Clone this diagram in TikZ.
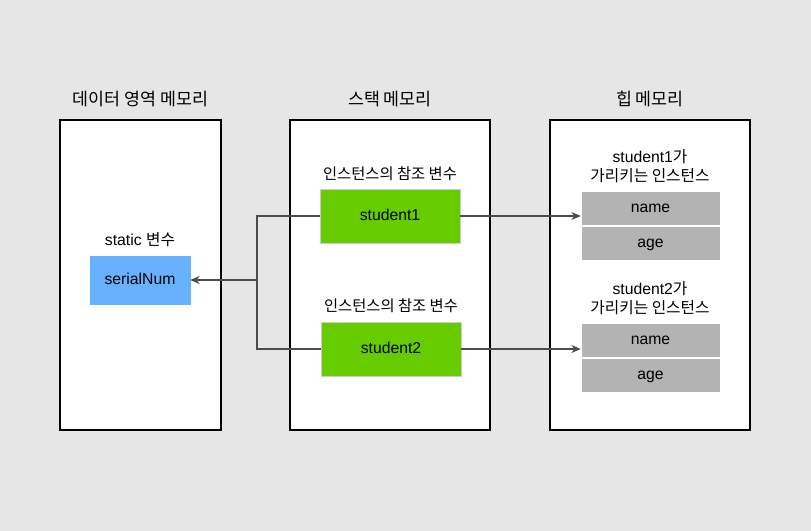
\documentclass[tikz,border=0pt]{standalone}
\usepackage{fontspec}
\setmainfont{Liberation Sans}
\newfontfamily\kr{Noto Sans CJK KR}
\usepackage{tikz}
\usetikzlibrary{arrows.meta, positioning}
\definecolor{bggray}{HTML}{E6E6E6}
\definecolor{serialblue}{HTML}{66B2FF}
\definecolor{stugreen}{HTML}{66CC00}
\definecolor{fieldgray}{HTML}{B3B3B3}

\begin{document}
\begin{tikzpicture}[x=0.75pt, y=-0.75pt, font=\fontsize{11.8}{14}\selectfont,
	mem/.style={draw=black, fill=white, line width=0.8pt, inner sep=0pt},
	title/.style={font=\kr\fontsize{13}{15}\selectfont},
	caption/.style={align=center, font=\fontsize{11.8}{14}\selectfont},
	refvar/.style={draw=black!20, fill=stugreen, minimum width=105pt, minimum height=40.5pt, inner sep=0pt, text height=1.6ex, text depth=0.3ex},
	field/.style={draw=white, fill=fieldgray, minimum width=104.25pt, minimum height=25.5pt, inner sep=0pt, text height=1.6ex, text depth=0.3ex},
	link/.style={draw=black!70, line width=0.8pt, -{Stealth[length=7pt, width=6pt]}}]
	% Background
	\fill[bggray] (0,0) rectangle (811,531);
	
	% Memory areas
	\node[mem, minimum width=120.75pt, minimum height=232.5pt] (data) at (140.5,275) {};
	\node[mem, minimum width=150pt, minimum height=232.5pt] (stack) at (390,275) {};
	\node[mem, minimum width=150pt, minimum height=232.5pt] (heap) at (650,275) {};
	\node[title] (datatitle) at (140.5,99) {데이터 영역 메모리};
	\node[title] (stacktitle) at (390,99) {스택 메모리};
	\node[title] (heaptitle) at (650,99) {힙 메모리};
	
	% Data area
	\node[draw=serialblue, fill=serialblue, minimum width=75pt, minimum height=36pt, inner sep=0pt, text height=1.6ex, text depth=0.3ex] (serial) at (140,280) {serialNum};
	\node[caption] (staticlabel) at (140,240) {static {\kr 변수}};
	
	% Stack
	\node[refvar] (stu1) at (390,216) {student1};
	\node[refvar] (stu2) at (391,349) {student2};
	\node[caption, font=\kr\fontsize{11.5}{14}\selectfont] (ref1) at (390,174) {인스턴스의 참조 변수};
	\node[caption, font=\kr\fontsize{11.5}{14}\selectfont] (ref2) at (391,306) {인스턴스의 참조 변수};
	
	% Heap
	\node[field] (name1) at (650.5,208) {name};
	\node[field] (age1) at (650.5,243) {age};
	\node[field] (name2) at (650.5,340) {name};
	\node[field] (age2) at (650.5,375) {age};
	\node[caption] (inst1) at (650,166) {student1{\kr 가}\\{\kr 가리키는 인스턴스}};
	\node[caption] (inst2) at (650,298) {student2{\kr 가}\\{\kr 가리키는 인스턴스}};
	
	% References
	\coordinate (join) at (257,280);
	\draw[link] (stu1.east) -- (name1.west |- stu1.east);
	\draw[link] (stu2.east) -- (name2.west |- stu2.east);
	\draw[draw=black!70, line width=0.8pt] (stu1.west) -| (join) |- (stu2.west);
	\draw[link] (join) -- (serial.east);
\end{tikzpicture}
\end{document}
